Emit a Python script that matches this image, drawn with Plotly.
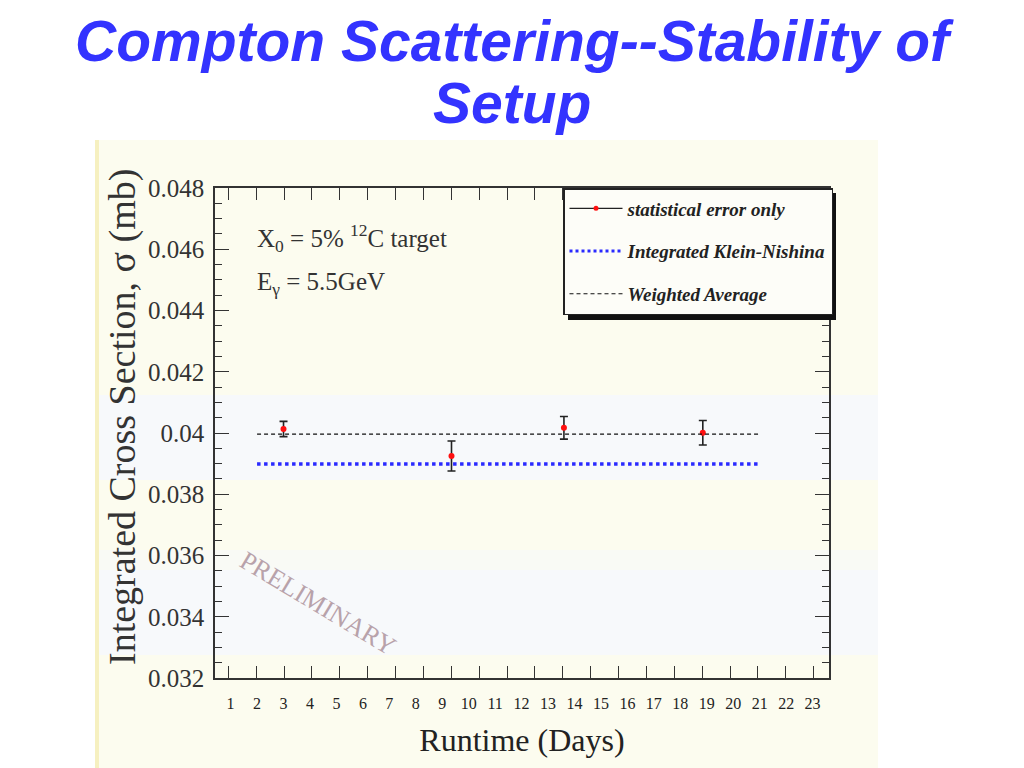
import plotly.graph_objects as go

# ---- data ----
days = [3.0, 9.35, 13.6, 18.85]
sigma = [0.04013, 0.03925, 0.04017, 0.04001]
sigma_err = [0.00025, 0.00049, 0.00037, 0.00040]
line_days = [2, 21]
weighted_avg = 0.03996
klein_nishina = 0.03899
x_tick_vals = list(range(1, 24))
x_tick_text = [str(v) for v in x_tick_vals]
y_tick_vals = [0.032, 0.034, 0.036, 0.038, 0.040, 0.042, 0.044, 0.046, 0.048]
y_tick_text = ["0.032", "0.034", "0.036", "0.038", "0.04", "0.042", "0.044", "0.046", "0.048"]
frame_ticks = list(range(0, 22))
title_lines = ["Compton Scattering--Stability of", "Setup"]

SERIF = "Liberation Serif, Times New Roman, serif"
AX = "#333333"

fig = go.Figure()

# data points with statistical errors
fig.add_trace(go.Scatter(
    x=days, y=sigma, mode="markers", showlegend=False,
    marker=dict(color="#ff1010", size=6),
    error_y=dict(type="data", array=sigma_err, color="#222222", thickness=1.6, width=4),
))
# Klein-Nishina
fig.add_trace(go.Scatter(
    x=line_days, y=[klein_nishina] * len(line_days), mode="lines",
    line=dict(color="#2a2aff", width=3.5, dash="dot"), showlegend=False,
))
# weighted average
fig.add_trace(go.Scatter(
    x=line_days, y=[weighted_avg] * len(line_days), mode="lines",
    line=dict(color="#111111", width=1.2, dash="4px,3px"), showlegend=False,
))
# legend entries
fig.add_trace(go.Scatter(
    x=[None], y=[None], mode="lines+markers", name="statistical error only",
    line=dict(color="#222222", width=1.2), marker=dict(color="#ff1010", size=5),
    legendgroup="a", xaxis="x2",
))
fig.add_trace(go.Scatter(
    x=[None], y=[None], mode="lines", name="Integrated Klein-Nishina",
    line=dict(color="#2a2aff", width=3, dash="dot"), legendgroup="b",
))
fig.add_trace(go.Scatter(
    x=[None], y=[None], mode="lines", name="Weighted Average",
    line=dict(color="#111111", width=1.2, dash="4px,3px"), legendgroup="c",
))

# screen pixel -> paper coordinates (plot area spans 215..829 x, 188..678 y on screen)
def px2paper_x(px):
    return (px - 215) / 614.0

def py2paper_y(py):
    return (678 - py) / 490.0

shapes = []
cream = "#fcfcef"
bluish = "#f7f9fb"
bands = [(140, 395, cream), (395, 480, bluish), (480, 550, cream), (550, 570, "#f9faf5"),
         (570, 655, bluish), (655, 780, cream)]
for top, bot, col in bands:
    shapes.append(dict(type="rect", xref="paper", yref="paper", layer="below",
                       x0=px2paper_x(95), x1=px2paper_x(878), y0=py2paper_y(bot), y1=py2paper_y(top),
                       fillcolor=col, line=dict(width=0)))
shapes.append(dict(type="rect", xref="paper", yref="paper", layer="below",
                   x0=px2paper_x(95), x1=px2paper_x(99), y0=py2paper_y(780), y1=py2paper_y(140),
                   fillcolor="#f6f0c0", line=dict(width=0)))
# legend shadow
shapes.append(dict(type="rect", xref="paper", yref="paper", layer="above",
                   x0=px2paper_x(568), x1=px2paper_x(836), y0=py2paper_y(320), y1=py2paper_y(193),
                   fillcolor="#111111", line=dict(width=0)))

TITLE_FONT = dict(family="Liberation Sans, Arial, sans-serif", size=57, color="#3333ff")
annotations = [
    dict(text="<b><i>%s</i></b>" % title_lines[0], xref="paper", yref="paper",
         x=px2paper_x(514), y=py2paper_y(8), xanchor="center", yanchor="top", showarrow=False,
         borderpad=0, font=TITLE_FONT),
    dict(text="<b><i>%s</i></b>" % title_lines[1], xref="paper", yref="paper",
         x=px2paper_x(512), y=py2paper_y(103), xanchor="center", yanchor="middle", showarrow=False,
         font=TITLE_FONT),
    dict(text="Integrated Cross Section, σ (mb)", xref="paper", yref="paper",
         x=px2paper_x(122), y=py2paper_y(417), xanchor="center", yanchor="middle",
         textangle=-90, showarrow=False, font=dict(family=SERIF, size=38, color=AX)),
    dict(text="X<sub>0</sub> = 5% <sup>12</sup>C target", xref="paper", yref="paper",
         x=px2paper_x(255), y=py2paper_y(238), xanchor="left", yanchor="middle", showarrow=False,
         font=dict(family=SERIF, size=25, color=AX)),
    dict(text="E<sub>γ</sub> = 5.5GeV", xref="paper", yref="paper",
         x=px2paper_x(255), y=py2paper_y(283), xanchor="left", yanchor="middle", showarrow=False,
         font=dict(family=SERIF, size=25, color=AX)),
    dict(text="PRELIMINARY", xref="paper", yref="paper", x=px2paper_x(318), y=py2paper_y(603),
         xanchor="center", yanchor="middle",
         textangle=31, showarrow=False, font=dict(family=SERIF, size=26, color="#b8a2aa")),
]

fig.update_layout(
    width=1016, height=760,
    margin=dict(l=207, r=195, t=180, b=90),
    paper_bgcolor="white", plot_bgcolor="rgba(0,0,0,0)",
    xaxis=dict(range=[0.41, 23.62], tickmode="array", tickvals=x_tick_vals, ticktext=x_tick_text,
               ticks="", showgrid=False, zeroline=False, showline=True, mirror=True,
               linecolor=AX, linewidth=1.5, ticklabelstandoff=10,
               tickfont=dict(family=SERIF, size=16, color="#222222"),
               title=dict(text="Runtime (Days)", font=dict(family=SERIF, size=32, color="#222222"),
                          standoff=18)),
    xaxis2=dict(overlaying="x", range=[-0.477, 21.55], tickmode="array", tickvals=frame_ticks,
                ticks="inside", ticklen=12, tickcolor=AX, tickwidth=1.3, mirror="ticks",
                showticklabels=False, showgrid=False, zeroline=False, showline=False, side="bottom"),
    yaxis=dict(range=[0.032, 0.048], tickmode="array", tickvals=y_tick_vals, ticktext=y_tick_text,
               ticks="inside", ticklen=14, tickcolor=AX, tickwidth=1.3, mirror="ticks",
               showline=True, linecolor=AX, linewidth=1.5, showgrid=False, zeroline=False,
               minor=dict(dtick=0.0005, ticks="inside", ticklen=7, tickcolor=AX, tickwidth=1.2, showgrid=False),
               ticklabelstandoff=4,
               tickfont=dict(family=SERIF, size=25, color=AX)),
    legend=dict(x=px2paper_x(563), y=py2paper_y(188), xanchor="left", yanchor="top",
                bgcolor="#fdfdf8", bordercolor="#222222", borderwidth=1.5,
                font=dict(family=SERIF, size=19, color="#222222", style="italic", weight="bold"),
                itemwidth=53, tracegroupgap=15, traceorder="grouped"),
    shapes=shapes, annotations=annotations,
    showlegend=True,
)

fig.write_html("out.html")
